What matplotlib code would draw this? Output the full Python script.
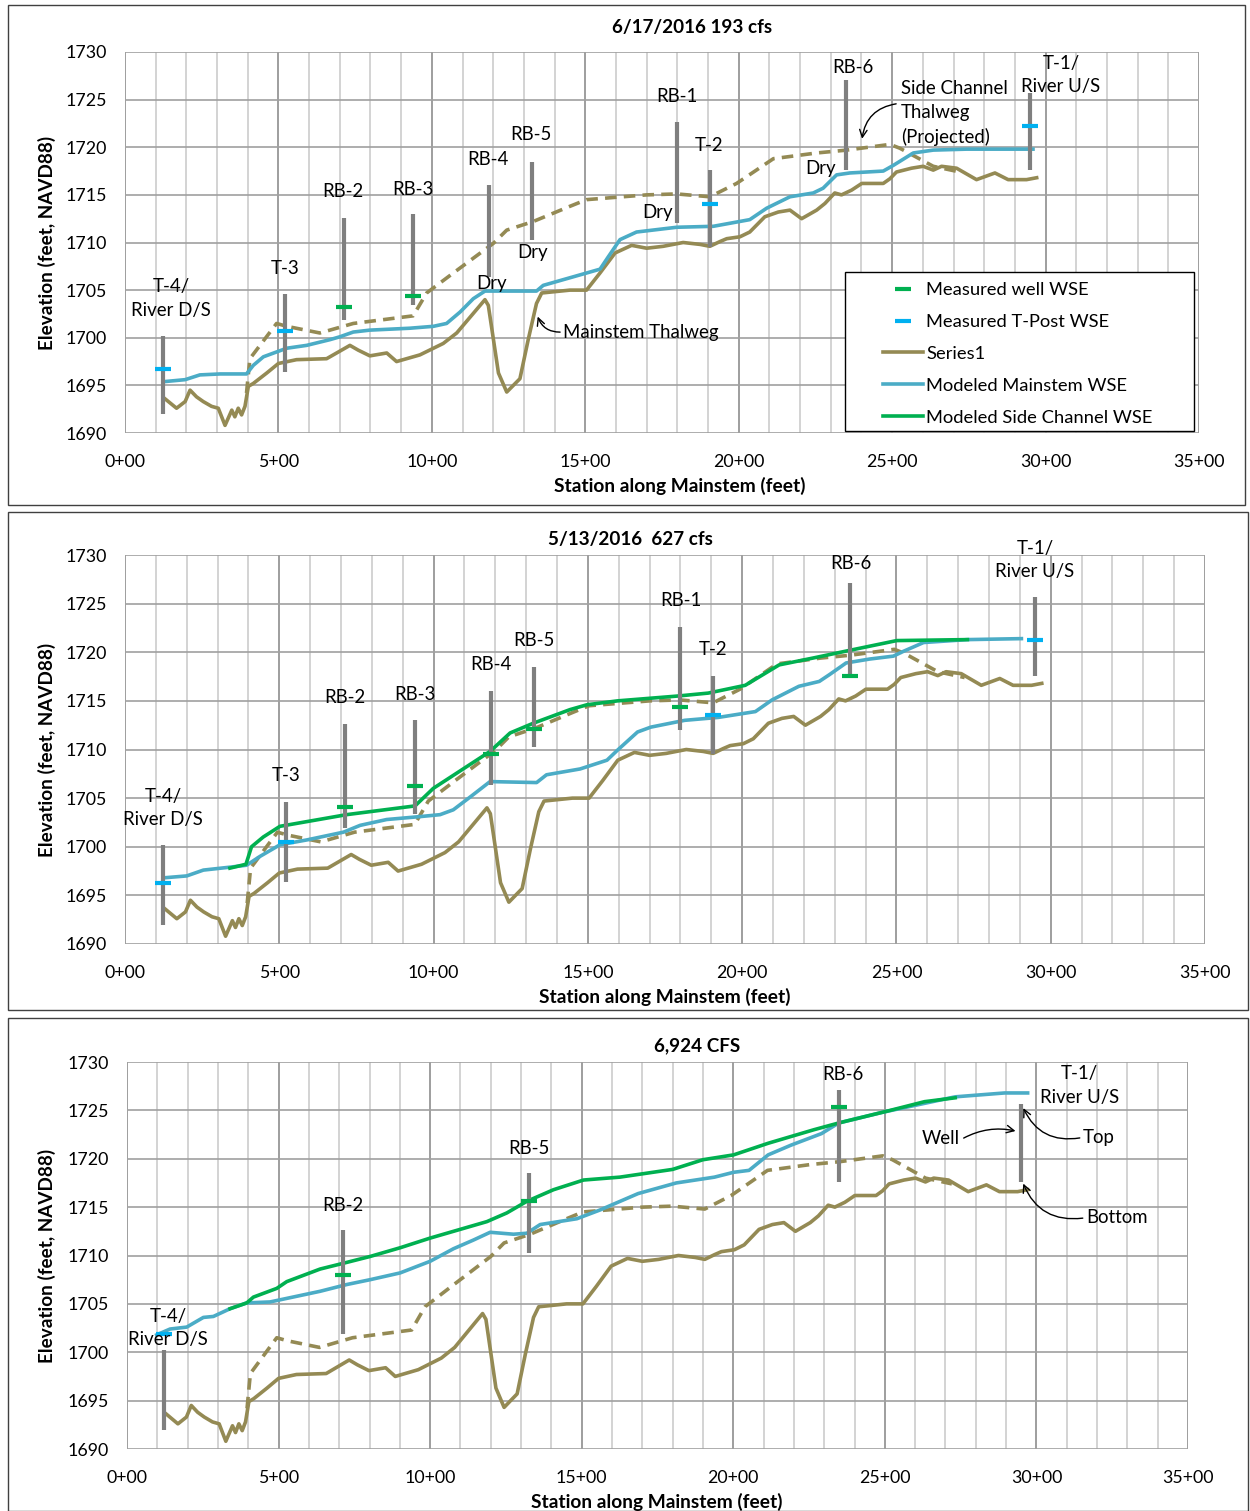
import matplotlib
matplotlib.use('Agg')
import matplotlib.pyplot as plt
from matplotlib.lines import Line2D
from matplotlib.patches import Rectangle
from matplotlib.ticker import FuncFormatter, MultipleLocator

plt.rcParams['font.family'] = ['Lato', 'DejaVu Sans']
plt.rcParams['font.size'] = 13.4

# mainstem thalweg ("Series1") - same in every panel
thalweg_sta = [130, 168, 196, 212, 233, 255, 282, 304, 326, 348, 358, 369, 380, 391, 402, 418, 462, 500,
               559, 657, 695, 733, 760, 798, 853, 885, 961, 1037, 1081, 1173, 1184, 1217, 1244, 1287,
               1314, 1341, 1358, 1450, 1504, 1548, 1597, 1651, 1700, 1754, 1819, 1874, 1906, 1939, 1961,
               2004, 2036, 2085, 2129, 2167, 2205, 2254, 2281, 2313, 2335, 2368, 2401, 2471, 2493, 2514,
               2563, 2601, 2634, 2661, 2710, 2775, 2835, 2878, 2938, 2971]
thalweg_el = [1693.6, 1692.6, 1693.3, 1694.5, 1693.8, 1693.3, 1692.8, 1692.6, 1690.8, 1692.4, 1691.7,
              1692.6, 1691.9, 1692.8, 1694.9, 1695.2, 1696.3, 1697.3, 1697.7, 1697.8, 1698.5, 1699.2,
              1698.7, 1698.1, 1698.4, 1697.5, 1698.2, 1699.4, 1700.5, 1704.0, 1703.4, 1696.3, 1694.3,
              1695.7, 1699.8, 1703.6, 1704.7, 1705.0, 1705.0, 1706.8, 1708.9, 1709.7, 1709.4, 1709.6,
              1710.0, 1709.8, 1709.6, 1710.1, 1710.4, 1710.6, 1711.1, 1712.7, 1713.2, 1713.4, 1712.5,
              1713.4, 1714.1, 1715.2, 1715.0, 1715.5, 1716.2, 1716.2, 1716.7, 1717.4, 1717.8, 1718.0,
              1717.6, 1718.0, 1717.8, 1716.6, 1717.3, 1716.6, 1716.6, 1716.8]

# side channel thalweg (projected)
side_sta = [396, 407, 494, 527, 635, 744, 939, 983, 1070, 1200, 1244, 1330, 1450, 1504, 1700, 1798,
            1906, 1993, 2113, 2254, 2352, 2493, 2525, 2634, 2721]
side_el = [1694.2, 1697.8, 1701.5, 1701.2, 1700.5, 1701.5, 1702.3, 1704.7, 1706.8, 1709.9, 1711.3,
           1712.2, 1713.8, 1714.5, 1715.0, 1715.1, 1714.8, 1716.2, 1718.8, 1719.4, 1719.7, 1720.3,
           1719.9, 1718.0, 1717.4]

# wells / T-posts
well_names = ['T-4', 'T-3', 'RB-2', 'RB-3', 'RB-4', 'RB-5', 'RB-1', 'T-2', 'RB-6', 'T-1']
well_sta = [123, 523, 713, 939, 1186, 1325, 1800, 1906, 2349, 2949]
well_bot = [1692.0, 1696.4, 1701.9, 1703.4, 1706.4, 1710.3, 1712.0, 1709.5, 1717.6, 1717.6]
well_top = [1700.2, 1704.6, 1712.6, 1713.0, 1716.0, 1718.5, 1722.6, 1717.6, 1727.1, 1725.7]

# 6/17/2016 193 cfs
ms1_sta = [130, 196, 244, 310, 396, 418, 451, 527, 592, 668, 700, 744, 798, 928, 1005, 1048, 1092,
           1135, 1173, 1341, 1363, 1461, 1548, 1575, 1613, 1667, 1798, 1917, 2036, 2091, 2167, 2243,
           2275, 2319, 2362, 2471, 2504, 2569, 2634, 2742, 2959]
ms1_el = [1695.4, 1695.6, 1696.1, 1696.2, 1696.2, 1697.1, 1698.0, 1698.9, 1699.2, 1699.8, 1700.1,
          1700.6, 1700.8, 1701.0, 1701.2, 1701.5, 1702.7, 1704.1, 1704.9, 1704.9, 1705.5, 1706.4,
          1707.2, 1708.5, 1710.3, 1711.1, 1711.6, 1711.7, 1712.4, 1713.6, 1714.8, 1715.2, 1715.7,
          1717.1, 1717.3, 1717.5, 1718.1, 1719.4, 1719.7, 1719.8, 1719.8]
wells1 = ['RB-2', 'RB-3']
wells1_wse = [1703.2, 1704.4]
tpost1 = ['T-4', 'T-3', 'T-2', 'T-1']
tpost1_wse = [1696.7, 1700.7, 1714.0, 1722.2]

# 5/13/2016 627 cfs
ms2_sta = [124, 200, 254, 340, 394, 437, 502, 589, 708, 762, 848, 956, 1021, 1064, 1118, 1183, 1334,
           1366, 1475, 1562, 1595, 1661, 1704, 1814, 1923, 2043, 2097, 2184, 2250, 2283, 2337, 2413,
           2490, 2523, 2588, 2730, 2905]
ms2_el = [1696.8, 1697.0, 1697.6, 1697.9, 1698.1, 1699.0, 1700.2, 1700.7, 1701.5, 1702.2, 1702.8,
          1703.1, 1703.3, 1703.8, 1705.1, 1706.7, 1706.6, 1707.4, 1708.0, 1708.9, 1709.9, 1711.8,
          1712.3, 1713.0, 1713.3, 1713.9, 1715.1, 1716.5, 1717.0, 1717.7, 1718.9, 1719.3, 1719.6,
          1720.1, 1721.0, 1721.3, 1721.4]
sc2_sta = [340, 392, 410, 448, 502, 718, 940, 999, 1183, 1248, 1323, 1442, 1497, 1596, 1792, 1890,
           2010, 2120, 2229, 2349, 2501, 2730]
sc2_el = [1697.8, 1698.2, 1700.0, 1701.0, 1702.1, 1703.3, 1704.2, 1706.0, 1709.8, 1711.7, 1712.7,
          1714.1, 1714.6, 1715.0, 1715.5, 1715.8, 1716.6, 1718.7, 1719.4, 1720.2, 1721.2, 1721.3]
wells2 = ['RB-2', 'RB-3', 'RB-4', 'RB-5', 'RB-1', 'RB-6']
wells2_wse = [1704.1, 1706.2, 1709.5, 1712.1, 1714.4, 1717.6]
tpost2 = ['T-4', 'T-3', 'T-2', 'T-1']
tpost2_wse = [1696.3, 1700.5, 1713.5, 1721.3]

# 6,924 cfs
ms3_sta = [98, 142, 197, 252, 285, 340, 395, 472, 637, 725, 802, 901, 1000, 1077, 1143, 1198, 1275,
           1319, 1363, 1484, 1560, 1686, 1812, 1938, 2001, 2052, 2115, 2190, 2291, 2348, 2492, 2732,
           2895, 2971]
ms3_el = [1701.8, 1702.4, 1702.6, 1703.6, 1703.7, 1704.5, 1705.1, 1705.2, 1706.3, 1707.0, 1707.5,
          1708.2, 1709.4, 1710.7, 1711.6, 1712.4, 1712.2, 1712.3, 1713.2, 1713.8, 1714.7, 1716.4,
          1717.5, 1718.1, 1718.6, 1718.8, 1720.4, 1721.4, 1722.6, 1723.7, 1724.8, 1726.4, 1726.8,
          1726.8]
sc3_sta = [340, 395, 417, 494, 527, 637, 714, 802, 901, 1000, 1077, 1187, 1253, 1319, 1407, 1506,
           1626, 1800, 1900, 2001, 2115, 2266, 2348, 2505, 2631, 2732]
sc3_el = [1704.5, 1705.1, 1705.7, 1706.6, 1707.3, 1708.6, 1709.2, 1709.9, 1710.8, 1711.8, 1712.5,
          1713.5, 1714.4, 1715.6, 1716.8, 1717.8, 1718.1, 1718.9, 1719.9, 1720.4, 1721.6, 1723.0,
          1723.7, 1724.9, 1725.9, 1726.3]
wells3 = ['RB-2', 'RB-5', 'RB-6']
wells3_wse = [1708.0, 1715.6, 1725.3]
tpost3 = ['T-4']
tpost3_wse = [1701.9]

OLIVE = '#948A54'
AQUA = '#4BACC6'
GREEN = '#00B050'
TBLUE = '#00B0F0'
GRAY = '#7F7F7F'

W, H = 1250, 1511
fig = plt.figure(figsize=(W / 100, H / 100), dpi=100)


def fx(px):
    return px / W


def fy(py):
    return 1 - py / H


def panel(box, plot, title, title_xy, xlab_x, ms, sc, shown, wells, wells_wse, tposts, tposts_wse, labels):
    fig.patches.append(Rectangle((fx(box[0]), fy(box[3])), fx(box[2] - box[0]), (box[3] - box[1]) / H,
                                 transform=fig.transFigure, fill=False, ec='#404040', lw=1))
    l, t, r, b = plot
    ax = fig.add_axes([fx(l), fy(b), fx(r - l), (b - t) / H])
    ax.set_xlim(0, 3500)
    ax.set_ylim(1690, 1730)
    ax.xaxis.set_major_locator(MultipleLocator(500))
    ax.xaxis.set_minor_locator(MultipleLocator(100))
    ax.yaxis.set_major_locator(MultipleLocator(5))
    ax.xaxis.set_major_formatter(FuncFormatter(lambda v, p: '%d+00' % (v / 100)))
    ax.grid(which='minor', axis='x', color='#C8C8C8', lw=1.1)
    ax.grid(which='major', axis='x', color='#8E8E8E', lw=1.2)
    ax.grid(which='major', axis='y', color='#A0A0A0', lw=1.2)
    ax.set_axisbelow(True)
    ax.tick_params(which='both', length=0, labelsize=12.8)
    ax.tick_params(axis='x', pad=15)
    ax.tick_params(axis='y', pad=13)
    for s in ax.spines.values():
        s.set_visible(False)

    ax.plot(thalweg_sta, thalweg_el, color=OLIVE, lw=2.6, zorder=2)
    ax.plot(side_sta, side_el, color=OLIVE, lw=2.6, ls=(0, (3.2, 2)), zorder=2)
    ax.plot(ms[0], ms[1], color=AQUA, lw=2.6, zorder=2)
    if sc is not None:
        ax.plot(sc[0], sc[1], color=GREEN, lw=2.6, zorder=2.1)

    idx = [well_names.index(n) for n in shown]
    ax.vlines([well_sta[i] for i in idx], [well_bot[i] for i in idx], [well_top[i] for i in idx],
              color=GRAY, lw=3, zorder=3)
    ax.plot([well_sta[well_names.index(n)] for n in wells], wells_wse, ls='none', marker='_',
            ms=11, mew=3, color=GREEN, zorder=4)
    ax.plot([well_sta[well_names.index(n)] for n in tposts], tposts_wse, ls='none', marker='_',
            ms=11, mew=3, color=TBLUE, zorder=4)

    for txt, x, y, ha in labels:
        ax.text(x, y, txt, ha=ha, va='center', fontsize=13.4, linespacing=1.47, zorder=5)

    fig.text(fx(title_xy[0]), fy(title_xy[1]), title, ha='center', va='center', fontsize=13.6,
             fontweight='bold')
    fig.text(fx(xlab_x), fy(b + 53), 'Station along Mainstem (feet)', ha='center', va='center',
             fontsize=13.8, fontweight='bold')
    fig.text(fx(47), fy((t + b) / 2), 'Elevation (feet, NAVD88)', ha='center', va='center',
             rotation=90, fontsize=13.6, fontweight='bold')
    return ax


ax1 = panel((8, 5, 1245, 505), (125, 52, 1199, 433), '6/17/2016 193 cfs', (692, 28), 680,
            (ms1_sta, ms1_el), None, well_names, wells1, wells1_wse, tpost1, tpost1_wse,
            [('T-4/\nRiver D/S', 150, 1704.1, 'center'), ('T-3', 521, 1707.3, 'center'),
             ('RB-2', 710, 1715.4, 'center'), ('RB-3', 938, 1715.6, 'center'),
             ('RB-4', 1183, 1718.7, 'center'), ('RB-5', 1323, 1721.3, 'center'),
             ('RB-1', 1799, 1725.3, 'center'), ('T-2', 1903, 1720.2, 'center'),
             ('RB-6', 2372, 1728.4, 'center'), ('T-1/\nRiver U/S', 3050, 1727.6, 'center'),
             ('Side Channel\nThalweg\n(Projected)', 2528, 1723.6, 'left'),
             ('Dry', 1193, 1705.7, 'center'), ('Dry', 1329, 1709.0, 'center'),
             ('Dry', 1737, 1713.2, 'center'), ('Dry', 2268, 1717.8, 'center'),
             ('Mainstem Thalweg', 1427, 1700.6, 'left')])
ax1.annotate('', xy=(1342, 1702.5), xytext=(1427, 1700.6),
             arrowprops=dict(arrowstyle='->', color='black', lw=1, connectionstyle='arc3,rad=-0.4'))
ax1.annotate('', xy=(2401, 1720.6), xytext=(2522, 1724.6),
             arrowprops=dict(arrowstyle='->', color='black', lw=1, connectionstyle='arc3,rad=0.4'))

# legend (Excel style frame drawn by hand)
ax1.add_patch(Rectangle((fx(845), fy(431)), fx(349), 159 / H, transform=fig.transFigure,
                        fc='white', ec='black', lw=1, zorder=6, clip_on=False))
handles = [Line2D([], [], ls='none', marker='_', ms=11, mew=3, color=GREEN),
           Line2D([], [], ls='none', marker='_', ms=11, mew=3, color=TBLUE),
           Line2D([], [], color=OLIVE, lw=2.6),
           Line2D([], [], color=AQUA, lw=2.6),
           Line2D([], [], color=GREEN, lw=2.6)]
leg = ax1.legend(handles, ['Measured well WSE', 'Measured T-Post WSE', 'Series1', 'Modeled Mainstem WSE',
                           'Modeled Side Channel WSE'],
                 loc='upper left', bbox_to_anchor=(fx(883), fy(282)), bbox_transform=fig.transFigure,
                 frameon=False, borderpad=0, borderaxespad=0, handlelength=2.2, handletextpad=0.15,
                 labelspacing=0.87, fontsize=13.2)
leg.set_zorder(7)

ax2 = panel((8, 512, 1248, 1010), (125, 555, 1205, 944), '5/13/2016  627 cfs', (630, 540), 665,
            (ms2_sta, ms2_el), (sc2_sta, sc2_el), well_names, wells2, wells2_wse, tpost2, tpost2_wse,
            [('T-4/\nRiver D/S', 123, 1704.0, 'center'), ('T-3', 522, 1707.3, 'center'),
             ('RB-2', 713, 1715.3, 'center'), ('RB-3', 940, 1715.7, 'center'),
             ('RB-4', 1186, 1718.7, 'center'), ('RB-5', 1325, 1721.2, 'center'),
             ('RB-1', 1802, 1725.3, 'center'), ('T-2', 1905, 1720.3, 'center'),
             ('RB-6', 2353, 1729.1, 'center'), ('T-1/\nRiver U/S', 2949, 1729.5, 'center')])

ax3 = panel((8, 1018, 1248, 1511), (127, 1062, 1188, 1449), '6,924 CFS', (697, 1046), 657,
            (ms3_sta, ms3_el), (sc3_sta, sc3_el), ['T-4', 'RB-2', 'RB-5', 'RB-6', 'T-1'],
            wells3, wells3_wse, tpost3, tpost3_wse,
            [('T-4/\nRiver D/S', 135, 1702.5, 'center'), ('RB-2', 713, 1715.2, 'center'),
             ('RB-5', 1326, 1721.1, 'center'), ('RB-6', 2362, 1728.7, 'center'),
             ('T-1/\nRiver U/S', 3141, 1727.6, 'center'), ('Well', 2748, 1722.1, 'right'),
             ('Top', 3154, 1722.2, 'left'), ('Bottom', 3164, 1713.9, 'left')])
ax3.annotate('', xy=(2940, 1722.8), xytext=(2752, 1722.0),
             arrowprops=dict(arrowstyle='->', color='black', lw=1, connectionstyle='arc3,rad=-0.2'))
ax3.annotate('', xy=(2953, 1725.5), xytext=(3152, 1722.2),
             arrowprops=dict(arrowstyle='->', color='black', lw=1, connectionstyle='arc3,rad=-0.4'))
ax3.annotate('', xy=(2953, 1717.7), xytext=(3162, 1713.9),
             arrowprops=dict(arrowstyle='->', color='black', lw=1, connectionstyle='arc3,rad=-0.4'))

fig.savefig('out.png', dpi=100)
